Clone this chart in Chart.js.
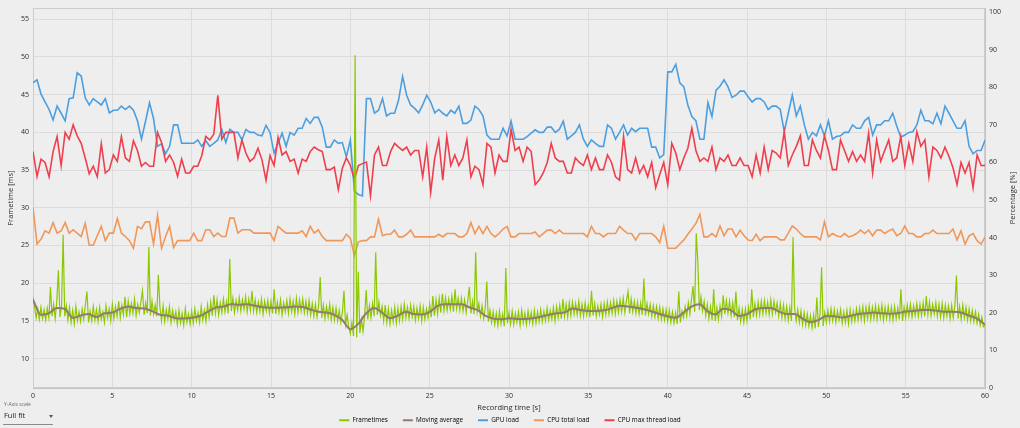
<!DOCTYPE html>
<html>
<head>
<meta charset="utf-8">
<script src="https://cdn.jsdelivr.net/npm/chart.js@4.4.1/dist/chart.umd.min.js"></script>
<style>
html, body { margin: 0; padding: 0; background: #eeeeee; overflow: hidden; }
#wrap { position: relative; width: 1020px; height: 428px; }
canvas { display: block; }
.ys-cap { position: absolute; left: 4px; top: 401px; font: 5px "Open Sans", sans-serif; color: #666; white-space: nowrap; }
.ys-val { position: absolute; left: 4px; top: 410px; font: 7.5px "Open Sans", sans-serif; color: #222; white-space: nowrap; }
.ys-arrow { position: absolute; left: 49px; top: 415px; width: 0; height: 0;
  border-left: 2.5px solid transparent; border-right: 2.5px solid transparent; border-top: 3px solid #555; }
.ys-line { position: absolute; left: 3px; top: 424px; width: 50px; height: 1px; background: #8a8a8a; }
</style>
</head>
<body>
<div id="wrap">
<canvas id="chart" width="1020" height="428"></canvas>
<div class="ys-cap">Y-Axis scale</div>
<div class="ys-val">Full fit</div>
<div class="ys-arrow"></div>
<div class="ys-line"></div>
</div>
<script>
// tick labels
const timeTicks = [0, 5, 10, 15, 20, 25, 30, 35, 40, 45, 50, 55, 60];
const ftTicks = [10, 15, 20, 25, 30, 35, 40, 45, 50, 55];
const pctTicks = [0, 10, 20, 30, 40, 50, 60, 70, 80, 90, 100];
const pctTitle = 'Percentage [%]';

// sampling intervals [s]
const frameStep = 0.1;
const avgStep = 0.5;
const sensorStep = 0.2532;

// frametimes [ms], one row per second
const frametimes = [
  18.2,16.9,15.4,16.6,15.2,16.8,15.3,16.5,15.1,16.7,
  15.4,19.5,15.6,17.2,15.3,17.6,21.7,15.5,17.0,26.4,
  15.6,17.0,15.1,16.8,14.8,16.4,14.6,16.9,15.0,16.2,
  14.9,16.6,15.2,17.1,18.9,14.8,16.3,15.0,16.9,15.1,
  16.5,14.9,16.8,15.2,16.2,14.8,17.0,15.4,16.6,15.0,
  17.2,15.3,16.9,15.6,17.6,15.4,17.1,15.8,18.2,15.5,
  17.6,15.9,17.3,16.0,17.9,15.7,17.2,16.1,17.5,19.0,
  15.8,17.4,16.0,24.8,15.7,17.6,15.9,17.1,15.6,21.1,
  16.8,15.0,17.0,14.9,16.5,15.2,16.9,14.8,16.4,15.1,
  16.2,14.5,16.4,14.7,16.0,14.4,16.6,14.8,15.9,14.6,
  16.3,14.7,16.6,15.0,16.1,14.8,16.9,15.1,16.4,14.9,
  17.1,15.4,17.5,15.7,18.4,16.0,17.8,15.8,17.4,16.1,
  17.9,16.2,17.6,16.0,23.2,16.3,18.0,16.1,17.7,16.4,
  18.1,16.3,17.8,16.5,18.2,16.2,17.9,16.4,19.0,16.3,
  17.8,16.1,17.5,16.2,17.9,15.9,17.6,16.3,17.7,16.0,
  17.6,16.0,19.2,15.9,17.5,16.1,17.8,15.8,17.4,16.2,
  17.7,16.0,17.9,16.2,17.6,15.9,18.0,16.1,17.8,16.3,
  17.9,16.1,17.6,16.0,17.7,15.8,17.3,15.6,17.2,15.5,
  17.0,20.8,15.4,17.1,15.3,16.9,15.5,17.2,15.2,16.8,
  15.1,16.7,15.0,16.4,14.8,16.2,19.0,14.5,15.8,14.2,
  13.3,14.8,13.0,50.2,12.8,21.5,13.4,15.2,13.6,15.6,
  19.1,15.2,17.0,15.4,17.3,15.6,24.1,15.8,17.5,15.7,
  16.9,15.0,17.1,14.8,16.6,14.6,16.4,14.9,16.8,14.7,
  16.7,15.0,16.9,15.2,17.2,15.4,16.8,15.3,17.1,15.5,
  16.9,15.1,16.7,15.3,17.0,15.0,16.8,15.2,16.6,15.4,
  17.2,15.5,18.3,15.7,17.8,15.9,18.0,16.1,18.6,16.3,
  18.1,16.4,17.9,16.5,18.3,16.2,19.2,16.6,18.0,16.4,
  18.0,16.3,17.8,16.1,17.7,19.5,16.0,17.6,15.9,24.1,
  16.2,17.3,15.6,17.0,15.3,16.6,20.2,14.9,16.4,14.8,
  16.2,14.5,16.0,14.4,16.3,14.6,15.9,14.3,22.0,14.7,
  16.1,14.6,16.3,14.5,16.0,14.8,16.2,14.4,16.4,14.7,
  16.0,14.5,16.3,14.8,16.1,14.6,16.4,14.7,16.2,14.9,
  16.5,14.9,16.3,15.0,16.7,15.1,16.4,15.2,16.8,15.0,
  16.9,15.4,17.1,15.3,17.9,15.6,17.2,15.5,17.4,15.7,
  17.5,15.9,17.3,15.8,17.6,15.7,17.2,15.6,17.4,15.8,
  17.1,15.5,19.0,15.7,17.3,15.6,17.0,15.8,17.2,15.5,
  17.3,15.8,17.5,15.9,17.4,16.0,17.7,15.9,17.6,16.1,
  17.8,16.2,18.0,16.1,17.7,18.9,16.0,17.9,16.2,17.6,
  16.0,17.5,15.9,17.4,15.8,20.6,15.7,17.3,15.9,17.2,
  15.6,17.0,15.5,16.9,15.3,16.8,15.2,16.6,15.1,16.5,
  14.9,16.4,14.8,16.2,14.7,16.1,14.6,18.9,14.8,16.3,
  15.4,16.9,15.6,17.4,15.9,17.8,19.6,16.2,26.6,22.9,
  16.4,18.2,16.3,17.6,15.7,17.2,15.3,16.9,15.1,19.2,
  15.0,16.8,15.2,17.0,15.6,18.4,15.9,17.7,16.0,17.6,
  15.7,17.4,15.5,18.9,15.1,16.7,14.9,16.5,14.8,16.6,
  15.0,16.8,15.2,19.2,15.5,17.3,15.7,17.5,15.8,17.6,
  15.9,17.7,16.0,17.5,15.8,17.8,15.9,17.6,16.1,17.4,
  15.6,17.3,15.4,17.1,15.3,16.9,15.1,16.8,15.0,26.1,
  16.7,15.0,16.5,14.8,16.3,14.5,16.1,14.4,15.9,14.3,
  15.7,14.1,15.8,14.0,18.1,14.2,15.9,22.1,14.3,16.1,
  14.8,16.4,14.9,16.6,15.0,16.5,14.8,16.3,15.1,16.5,
  14.7,16.2,14.8,16.4,14.6,16.5,14.9,16.3,15.0,16.6,
  15.1,16.7,15.2,16.9,15.0,16.8,15.3,17.0,15.2,16.8,
  15.3,17.0,15.2,16.9,15.4,17.1,15.1,16.8,15.3,16.9,
  15.2,16.8,15.1,16.9,15.3,16.7,15.2,19.2,15.0,16.8,
  15.4,17.1,15.6,17.2,15.5,17.0,15.7,17.3,15.6,17.2,
  15.7,17.4,15.6,18.3,15.8,17.5,15.7,17.2,15.9,17.4,
  15.6,17.2,15.5,17.3,15.4,17.1,15.6,17.0,15.3,17.1,
  15.4,17.0,21.0,15.3,16.9,15.2,17.1,15.4,16.8,15.1,
  16.6,15.0,16.4,14.9,16.2,14.7,15.9,14.4,15.5,14.2,
  14.3
];

// moving average [ms], every 0.5 s
const movingAvg = [
  17.8,15.8,16.0,16.7,16.6,15.4,15.7,15.9,15.5,16.0,
  16.1,16.6,16.9,16.7,16.65,16.3,15.8,15.7,15.35,15.3,
  15.4,15.65,16.2,16.75,16.9,17.2,17.15,17.2,17.0,16.8,
  16.75,16.75,16.8,16.9,16.85,16.5,16.2,16.1,15.8,15.1,
  13.9,14.6,16.0,16.7,16.1,15.35,15.7,16.2,15.9,15.85,
  16.2,17.0,17.2,17.2,17.2,16.8,16.45,15.7,15.3,15.2,
  15.35,15.25,15.25,15.35,15.55,15.8,16.0,16.1,16.65,16.45,
  16.3,16.3,16.4,16.7,17.0,16.9,16.75,16.55,16.25,15.9,
  15.6,15.4,16.1,16.9,17.2,16.3,15.85,16.6,16.4,15.65,
  15.9,16.5,16.7,16.7,16.25,15.9,15.9,15.3,14.85,15.1,
  15.65,15.6,15.45,15.65,15.9,16.0,16.1,16.0,15.95,16.0,
  16.25,16.3,16.45,16.45,16.35,16.2,16.2,16.1,15.7,15.3,
  14.5
];

// GPU load [%]
const gpuLoad = [
  81.2,82.0,78.2,76.1,74.1,71.3,75.0,73.1,71.1,77.0,
  77.2,83.9,83.0,77.2,75.3,77.0,76.1,75.3,77.0,73.2,
  73.9,73.9,75.0,74.1,75.0,73.9,71.1,66.2,70.9,75.9,
  71.7,64.3,65.0,62.3,64.3,70.0,70.0,65.1,65.1,65.1,
  65.1,66.0,64.3,65.8,64.3,65.1,66.0,68.8,65.3,68.8,
  68.0,68.0,66.0,68.8,68.0,68.0,67.3,67.1,69.9,68.0,
  62.5,65.1,67.8,64.3,68.0,67.3,69.1,69.1,71.7,70.4,
  72.0,72.0,69.4,64.1,64.1,66.0,65.1,
  65.3,61.5,66.0,52.4,51.5,51.1,
  77.0,77.0,73.1,73.9,77.0,72.4,73.1,73.1,76.6,82.9,
  77.9,75.3,74.4,73.2,75.3,77.9,76.1,73.2,74.1,73.1,
  72.4,73.9,73.1,75.0,70.4,70.4,71.3,75.0,74.1,72.4,
  67.3,66.2,66.2,66.2,69.1,67.1,71.0,66.2,66.2,66.2,
  66.9,67.8,68.7,68.0,68.0,69.4,69.4,68.0,68.8,71.0,
  66.2,67.1,68.0,70.0,66.2,64.3,66.0,65.1,64.3,64.3,
  70.0,69.1,66.2,68.0,70.0,67.3,69.1,68.2,69.1,69.1,
  69.1,64.1,64.1,61.2,62.1,
  84.1,84.1,86.1,81.2,80.1,75.3,72.2,71.1,66.2,66.2,
  75.9,72.2,79.2,80.3,82.0,80.1,77.3,77.9,79.0,79.0,
  77.5,76.1,77.0,77.0,76.1,74.1,75.0,75.0,74.1,68.2,
  73.1,77.9,72.4,75.0,70.0,66.2,68.0,67.1,70.0,67.1,
  71.1,66.2,66.9,67.1,68.0,68.0,70.0,69.1,69.1,71.1,
  72.0,67.3,70.0,70.0,71.1,71.1,73.1,69.7,66.7,67.3,
  68.0,68.2,70.0,73.9,71.1,71.1,70.3,73.1,70.3,75.0,
  73.1,71.1,69.1,69.1,71.1,64.3,62.3,63.2,63.2,66.0
];

// CPU total load [%]
const cpuTotal = [
  48.0,38.3,39.6,41.8,41.2,44.0,41.2,41.8,44.0,41.2,
  42.1,41.2,40.3,43.8,38.0,38.0,40.5,43.0,39.2,41.2,
  41.2,45.1,41.2,40.3,39.2,37.2,43.0,42.4,44.2,44.2,
  38.3,45.9,37.2,40.3,43.0,37.4,39.2,39.2,39.2,39.2,
  41.2,39.2,39.2,42.1,42.1,40.3,41.2,40.3,40.3,45.2,
  45.2,41.2,42.1,42.1,42.1,41.2,41.2,41.2,41.2,41.2,
  39.2,43.0,42.1,41.2,41.2,41.2,41.2,41.8,40.3,43.0,
  41.2,42.1,40.3,39.2,39.2,39.2,39.2,
  39.2,40.9,39.8,35.2,38.9,39.2,
  39.2,40.2,40.2,44.9,40.5,40.9,40.9,42.0,40.2,40.2,
  40.9,42.0,40.2,40.2,40.2,40.2,40.2,40.2,40.9,40.2,
  41.1,41.1,41.1,40.2,40.2,41.1,44.0,41.1,43.0,41.1,
  43.0,41.1,40.2,41.1,42.3,43.0,40.2,40.2,41.1,41.1,
  41.1,41.1,41.5,40.2,41.1,42.0,42.0,41.1,42.0,41.1,
  41.1,41.1,41.1,41.1,41.1,40.2,43.0,41.1,41.1,40.2,
  41.1,41.1,41.1,43.0,42.0,41.1,41.1,39.4,41.1,41.1,
  41.1,41.1,40.2,38.7,43.0,
  37.2,37.2,37.2,38.3,39.4,40.9,42.3,43.8,46.2,40.2,
  40.2,41.1,40.2,43.1,40.5,42.3,42.3,40.2,42.0,40.5,
  39.4,39.2,40.9,39.2,40.2,40.2,40.2,40.2,39.4,39.4,
  41.2,43.1,42.3,41.1,40.2,40.2,40.2,40.2,39.4,44.2,
  40.2,41.1,40.5,40.2,41.1,40.2,40.5,41.1,42.0,41.1,
  42.0,40.5,42.0,42.0,41.1,41.8,42.3,40.5,41.1,43.1,
  41.1,41.1,40.2,40.2,41.1,41.1,42.0,41.1,41.1,41.1,
  41.1,42.3,39.4,41.8,38.3,40.5,41.1,39.2,38.3,40.2
];

// CPU max thread load [%]
const cpuMaxThread = [
  62.9,56.3,60.9,60.0,56.2,62.9,66.9,59.2,68.0,66.2,
  70.0,67.1,65.1,61.2,57.0,59.0,56.2,65.0,57.2,58.1,
  62.0,60.3,66.9,61.2,60.3,65.8,63.2,59.0,60.0,59.0,
  59.0,68.0,65.3,60.3,62.0,60.0,56.3,60.9,57.2,57.2,
  59.0,59.0,61.8,66.9,66.0,67.5,77.9,66.2,68.0,68.0,
  68.0,61.2,66.0,62.5,60.3,61.2,63.8,60.7,55.3,61.8,
  59.2,66.7,62.0,62.9,60.3,60.9,57.2,60.9,60.3,62.9,
  64.1,63.4,62.9,58.1,58.1,58.8,52.8,
  58.5,61.2,59.2,55.5,59.2,59.7,
  60.1,51.2,62.0,64.1,59.2,59.2,62.9,65.1,64.1,63.2,
  64.1,62.0,63.2,63.2,56.2,64.1,52.1,61.2,66.0,55.3,
  66.9,59.2,62.0,59.2,61.2,66.0,56.2,59.0,58.1,54.1,
  65.1,64.1,57.2,62.0,60.3,60.3,68.8,63.2,64.1,60.3,
  64.1,62.9,54.1,55.3,57.2,60.0,65.1,61.2,60.3,60.3,
  57.2,57.2,61.2,60.0,59.2,62.0,58.1,61.2,58.1,58.1,
  62.0,60.0,56.2,55.3,66.9,58.1,57.2,61.2,57.2,59.2,
  56.2,60.0,53.3,56.8,60.0,
  54.1,65.1,62.5,58.1,61.2,63.8,69.1,63.2,60.3,61.2,
  60.3,64.1,58.1,61.2,60.3,62.0,59.2,59.2,61.2,59.2,
  59.2,56.2,62.0,57.2,64.1,58.1,63.2,62.5,61.2,68.2,
  59.2,62.0,64.3,67.1,59.2,59.2,66.0,63.2,61.2,67.1,
  63.2,58.1,58.1,66.0,63.2,60.3,62.9,60.3,62.0,60.3,
  67.8,57.2,66.0,60.3,63.2,66.0,60.3,61.2,66.9,59.2,
  65.1,60.3,68.2,64.3,66.0,56.2,64.1,63.2,61.2,64.1,
  61.6,58.6,54.1,60.0,57.2,60.0,53.3,62.0,59.2,59.2
];

const series = (values, step) => values.map((v, i) => ({ x: i * step, y: v }));

Chart.defaults.font.family = '"Open Sans", sans-serif';
Chart.defaults.color = '#2a2a2a';

// light frame round the plot area
const frame = {
  id: 'frame',
  beforeDatasetsDraw(chart) {
    const { ctx, chartArea: a } = chart;
    ctx.save();
    ctx.strokeStyle = '#cdcdcd';
    ctx.lineWidth = 1;
    ctx.strokeRect(Math.round(a.left) + 0.5, Math.round(a.top) + 0.5, Math.round(a.width) - 1, Math.round(a.height) - 1);
    ctx.restore();
  }
};

// right axis title, turned the same way as the left one
const rightTitle = {
  id: 'rightTitle',
  afterDraw(chart) {
    const { ctx, chartArea: a } = chart;
    ctx.save();
    ctx.translate(1012.7, (a.top + a.bottom) / 2);
    ctx.rotate(-Math.PI / 2);
    ctx.font = '7.5px "Open Sans", sans-serif';
    ctx.fillStyle = '#2a2a2a';
    ctx.textAlign = 'center';
    ctx.textBaseline = 'middle';
    ctx.fillText(pctTitle, 0, 0);
    ctx.restore();
  }
};

new Chart(document.getElementById('chart'), {
  type: 'line',
  data: {
    datasets: [{
      label: 'Frametimes',
      data: series(frametimes, frameStep),
      yAxisID: 'yFt',
      borderColor: '#8cc800',
      borderWidth: 1.2,
      order: 1
    }, {
      label: 'Moving average',
      data: series(movingAvg, avgStep),
      yAxisID: 'yFt',
      borderColor: '#957a70',
      borderWidth: 2,
      cubicInterpolationMode: 'monotone',
      order: 0
    }, {
      label: 'GPU load',
      data: series(gpuLoad, sensorStep),
      yAxisID: 'yPct',
      borderColor: '#4b9fe1',
      borderWidth: 1.6,
      order: 4
    }, {
      label: 'CPU total load',
      data: series(cpuTotal, sensorStep),
      yAxisID: 'yPct',
      borderColor: '#f0975a',
      borderWidth: 1.6,
      order: 3
    }, {
      label: 'CPU max thread load',
      data: series(cpuMaxThread, sensorStep),
      yAxisID: 'yPct',
      borderColor: '#ef3f4d',
      borderWidth: 1.6,
      order: 2
    }]
  },
  options: {
    responsive: false,
    animation: false,
    parsing: false,
    elements: { point: { radius: 0 }, line: { tension: 0, fill: false } },
    layout: { padding: { top: 4, left: 0, right: 0, bottom: -5.5 } },
    plugins: {
      tooltip: { enabled: false },
      legend: {
        position: 'bottom',
        labels: {
          boxWidth: 10,
          boxHeight: 2,
          padding: 15,
          color: '#222',
          font: { size: 6.4 },
          generateLabels: chart => chart.data.datasets.map((ds, i) => ({
            text: ds.label,
            fillStyle: ds.borderColor,
            strokeStyle: ds.borderColor,
            lineWidth: 0,
            hidden: false,
            datasetIndex: i
          }))
        }
      }
    },
    scales: {
      x: {
        type: 'linear',
        min: 0,
        max: 60,
        afterBuildTicks: s => { s.ticks = timeTicks.map(v => ({ value: v })); },
        afterFit: s => { s.height = 14.1; },
        grid: { color: '#dcdcdc', drawTicks: false },
        border: { color: '#c4c4c4' },
        ticks: { padding: 4, maxRotation: 0, autoSkip: false, font: { size: 7 } },
        title: { display: true, text: 'Recording time [s]', font: { size: 7.5 }, padding: { top: 0, bottom: -10 } }
      },
      yFt: {
        type: 'linear',
        position: 'left',
        min: 6.1,
        max: 56.45,
        afterBuildTicks: s => { s.ticks = ftTicks.map(v => ({ value: v })); },
        afterFit: s => { s.width = 33; },
        grid: { color: '#dcdcdc', drawTicks: false },
        border: { color: '#c4c4c4' },
        ticks: { padding: 4, font: { size: 7 } },
        title: { display: true, text: 'Frametime [ms]', font: { size: 7.5 }, padding: { top: 6.5, bottom: 0 } }
      },
      yPct: {
        type: 'linear',
        position: 'right',
        min: 0,
        max: 101.05,
        afterBuildTicks: s => { s.ticks = pctTicks.map(v => ({ value: v })); },
        afterFit: s => { s.width = 35; },
        grid: { drawOnChartArea: false, drawTicks: false },
        border: { color: '#c4c4c4' },
        ticks: { padding: 4, font: { size: 7 } },
        title: { display: false, text: pctTitle }
      }
    }
  },
  plugins: [frame, rightTitle]
});
</script>
</body>
</html>
